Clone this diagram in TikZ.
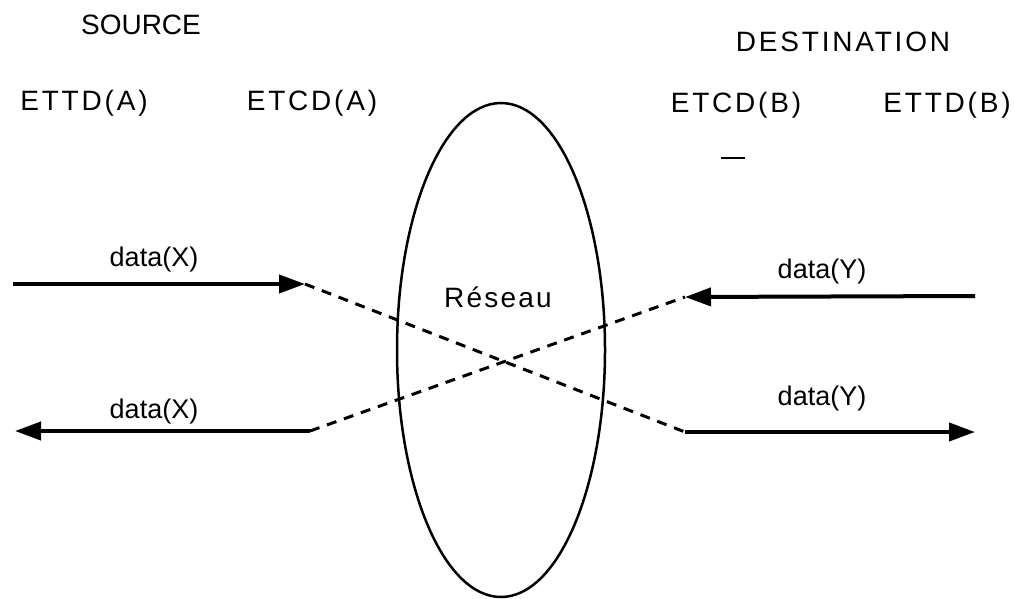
\documentclass[tikz,border=0pt]{standalone}
\usepackage{fontspec}
\setmainfont{Liberation Sans}
\newfontfamily\widefont{Liberation Sans}[LetterSpace=10]
\newfontfamily\midfont{Liberation Sans}[LetterSpace=8]
\usetikzlibrary{shapes.geometric,arrows.meta}

\begin{document}
\begin{tikzpicture}[x=1pt,y=-1pt,
    arrow/.style={draw,line width=4pt,-{Triangle[length=26pt,width=18pt]}},
    link/.style={draw,line width=3pt,dash pattern=on 10pt off 8pt},
    title/.style={anchor=base,inner sep=0pt,font=\fontsize{28}{32}\selectfont},
    station/.style={anchor=base,inner sep=0pt,font=\widefont\fontsize{28}{32}\selectfont},
    data/.style={anchor=base,inner sep=0pt,font=\fontsize{27}{32}\selectfont}]
    \useasboundingbox (0,0) rectangle (1014,599);

    % ends of the lines
    \coordinate (A1) at (13,284);
    \coordinate (A2) at (305,284);
    \coordinate (B1) at (310,431);
    \coordinate (B2) at (15,431);
    \coordinate (C1) at (975,296);
    \coordinate (C2) at (685,297);
    \coordinate (D1) at (685,432);
    \coordinate (D2) at (975,432);

    \coordinate (M1) at (721,158);
    \coordinate (M2) at (745,158);

    % network
    \node[draw,ellipse,line width=2.5pt,minimum width=208pt,minimum height=494pt] (reseau) at (501,350) {};
    \node[data,font=\midfont\fontsize{28}{32}\selectfont] (reseaulbl) at (498,307) {Réseau};

    % titles
    \node[title] (source) at (141,35) {SOURCE};
    \node[station] (dest) at (843,52) {DESTINATION};
    \foreach \p/\n/\lbl in {(84,111)/ettda/ETTD(A),(312,111)/etcda/ETCD(A),(736,113)/etcdb/ETCD(B),(947,113)/ettdb/ETTD(B)}
    {
      \node[station] (\n) at \p {\lbl};
    }

    % data labels
    \foreach \p/\n/\lbl in {(154,266)/dx1/data(X),(154,418)/dx2/data(X),(822,278)/dy1/data(Y),(822,405)/dy2/data(Y)}
    {
      \node[data] (\n) at \p {\lbl};
    }

    % arrows
    \foreach \a/\b in {A1/A2,B1/B2,C1/C2,D1/D2}
    {
      \draw[arrow] (\a) -- (\b);
    }
    \draw[link] (A2) -- (D1);
    \draw[link] (B1) -- (C2);

    \draw[line width=1.5pt] (M1) -- (M2);

\end{tikzpicture}
\end{document}
